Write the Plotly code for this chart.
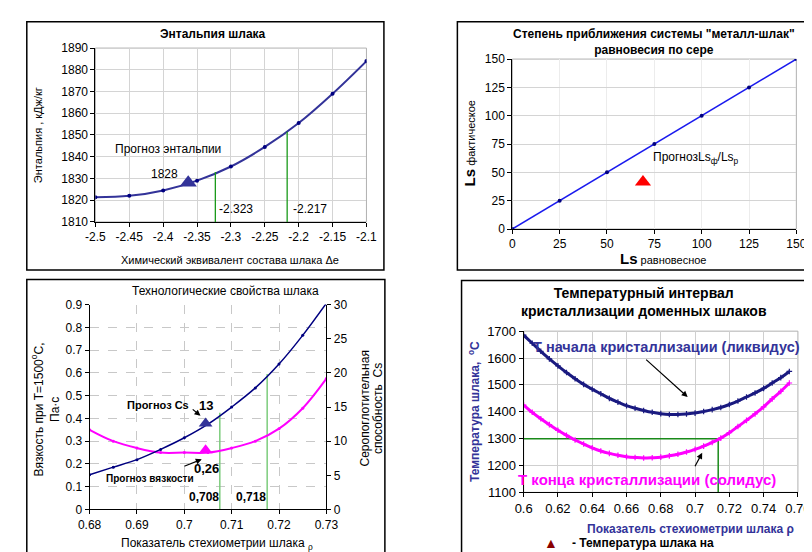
import plotly.graph_objects as go

W, H = 812, 552
def px(x): return x / W
def py(y): return 1 - y / H

F = "Liberation Sans, Arial, sans-serif"
FN = "Liberation Sans Narrow, Arial Narrow, Liberation Sans, sans-serif"

# ---------- Panel 1: enthalpy ----------
de = [-2.5, -2.45, -2.4, -2.35, -2.3, -2.25, -2.2, -2.15, -2.1]
enthalpy = [1821.3, 1822.0, 1824.5, 1829.0, 1835.5, 1844.5, 1855.5, 1869.0, 1884.0]
enth_forecast_x = [-2.363]
enth_forecast_y = [1828]
enth_green_x = [-2.323, -2.217]
enth_green_top = [1833.0, 1851.5]
p1_xticks = [-2.5, -2.45, -2.4, -2.35, -2.3, -2.25, -2.2, -2.15, -2.1]
p1_xtext = ["-2.5", "-2.45", "-2.4", "-2.35", "-2.3", "-2.25", "-2.2", "-2.15", "-2.1"]

# ---------- Panel 2: Ls ----------
ls_eq = [0, 25, 50, 75, 100, 125, 150]
ls_act = [0, 25, 50, 75, 100, 125, 150]
ls_forecast_x = [69]
ls_forecast_y = [41.5]

# ---------- Panel 3: viscosity & Cs ----------
rho3 = [0.68, 0.685, 0.69, 0.695, 0.70, 0.705, 0.71, 0.715, 0.72, 0.725, 0.73]
cs = [5.1, 6.2, 7.3, 8.8, 10.5, 12.5, 15.0, 17.8, 21.3, 25.5, 30.2]
viscosity = [0.35, 0.30, 0.27, 0.25, 0.25, 0.25, 0.27, 0.30, 0.355, 0.445, 0.575]
cs_forecast = ([0.7045], [12.6])
visc_forecast = ([0.7045], [0.26])
p3_green_x = [0.7075, 0.7175]
p3_green_top = [0.425, 0.595]

# ---------- Panel 4: crystallisation ----------
rho4 = [0.600, 0.605, 0.610, 0.615, 0.620, 0.625, 0.630, 0.635, 0.640, 0.645,
        0.650, 0.655, 0.660, 0.665, 0.670, 0.675, 0.680, 0.685, 0.690, 0.695,
        0.700, 0.705, 0.710, 0.715, 0.720, 0.725, 0.730, 0.735, 0.740, 0.745,
        0.750, 0.755]
liquidus = [1685, 1655, 1625, 1597, 1571, 1546, 1523, 1502, 1484, 1467,
            1450, 1436, 1423, 1413, 1405, 1398, 1393, 1390, 1390, 1392,
            1395, 1401, 1408, 1416, 1427, 1440, 1455, 1470, 1487, 1507,
            1527, 1550]
solidus = [1425, 1398, 1374, 1352, 1331, 1312, 1295, 1280, 1266, 1254,
           1245, 1238, 1233, 1230, 1228, 1229, 1231, 1236, 1242, 1250,
           1260, 1272, 1286, 1302, 1322, 1345, 1368, 1392, 1418, 1448,
           1476, 1507]
p4_green_h_x = [0.6, 0.7135]
p4_green_h_y = [1300, 1300]
p4_green_v_x = [0.7135, 0.7135]
p4_green_v_y = [1300, 1100]

fig = go.Figure()

# Panel 1 traces
fig.add_trace(go.Scatter(x=de, y=enthalpy, mode="lines+markers", xaxis="x", yaxis="y",
                         line=dict(color="#333399", width=2, shape="spline"),
                         marker=dict(size=4, color="#000080"), showlegend=False))
for gx, gt in zip(enth_green_x, enth_green_top):
    fig.add_trace(go.Scatter(x=[gx, gx], y=[1810, gt], mode="lines", xaxis="x", yaxis="y",
                             line=dict(color="#1a9a1a", width=1.3), showlegend=False))
fig.add_trace(go.Scatter(x=enth_forecast_x, y=enth_forecast_y, mode="markers", xaxis="x", yaxis="y",
                         marker=dict(symbol="triangle-up", size=15, color="#333399"), showlegend=False))

# Panel 2 traces
fig.add_trace(go.Scatter(x=ls_eq, y=ls_act, mode="lines+markers", xaxis="x2", yaxis="y2",
                         line=dict(color="#1a1aee", width=1.5),
                         marker=dict(size=4, color="#000080"), showlegend=False))
fig.add_trace(go.Scatter(x=ls_forecast_x, y=ls_forecast_y, mode="markers", xaxis="x2", yaxis="y2",
                         marker=dict(symbol="triangle-up", size=14, color="#ff0000"), showlegend=False))

# Panel 3 traces
for gx, gt in zip(p3_green_x, p3_green_top):
    fig.add_trace(go.Scatter(x=[gx, gx], y=[0, gt], mode="lines", xaxis="x3", yaxis="y3",
                             line=dict(color="#7ccc7c", width=1.5), showlegend=False))
fig.add_trace(go.Scatter(x=rho3, y=viscosity, mode="lines+markers", xaxis="x3", yaxis="y3",
                         line=dict(color="#ff00ff", width=2, shape="spline"),
                         marker=dict(size=3, color="#ff00ff"), showlegend=False))
fig.add_trace(go.Scatter(x=rho3, y=cs, mode="lines+markers", xaxis="x3", yaxis="y4",
                         line=dict(color="#000080", width=1.5, shape="spline"),
                         marker=dict(size=3, color="#000080"), showlegend=False))
fig.add_trace(go.Scatter(x=cs_forecast[0], y=cs_forecast[1], mode="markers", xaxis="x3", yaxis="y4",
                         marker=dict(symbol="triangle-up", size=12, color="#333399"), showlegend=False))
fig.add_trace(go.Scatter(x=visc_forecast[0], y=visc_forecast[1], mode="markers", xaxis="x3", yaxis="y3",
                         marker=dict(symbol="triangle-up", size=12, color="#ff00ff"), showlegend=False))

# Panel 4 traces
fig.add_trace(go.Scatter(x=p4_green_h_x, y=p4_green_h_y, mode="lines", xaxis="x5", yaxis="y5",
                         line=dict(color="#1a8a1a", width=1.5), showlegend=False))
fig.add_trace(go.Scatter(x=p4_green_v_x, y=p4_green_v_y, mode="lines", xaxis="x5", yaxis="y5",
                         line=dict(color="#1a8a1a", width=1.5), showlegend=False))
fig.add_trace(go.Scatter(x=rho4, y=liquidus, mode="lines+markers", xaxis="x5", yaxis="y5",
                         line=dict(color="#1a1a80", width=3, shape="spline"),
                         marker=dict(symbol="cross-thin", size=4, line=dict(color="#1a1a80", width=1.2)),
                         showlegend=False))
fig.add_trace(go.Scatter(x=rho4, y=solidus, mode="lines+markers", xaxis="x5", yaxis="y5",
                         line=dict(color="#ff00ff", width=3, shape="spline"),
                         marker=dict(symbol="cross-thin", size=4, line=dict(color="#ff00ff", width=1.2)),
                         showlegend=False))

grid = "#d4d4d4"
ax_common = dict(showline=True, linecolor="black", linewidth=1, ticks="outside",
                 ticklen=4, tickcolor="black", zeroline=False)

layout = dict(
    width=W, height=H, margin=dict(l=0, r=0, t=0, b=0),
    paper_bgcolor="white", plot_bgcolor="rgba(0,0,0,0)",
    font=dict(family=F, size=12, color="black"),
    showlegend=False,
    xaxis=dict(domain=[px(77.7), px(357)], anchor="y", range=[-2.5, -2.1],
               tickvals=p1_xticks, ticktext=p1_xtext, showgrid=True, gridcolor=grid,
               tickfont=dict(size=12), **ax_common),
    yaxis=dict(domain=[py(212.7), py(34)], anchor="x", range=[1810, 1890], dtick=10,
               showgrid=True, gridcolor=grid, tickfont=dict(size=12), **ax_common),
    xaxis2=dict(domain=[px(507.3), px(800)], anchor="y2", range=[0, 150], dtick=25,
                showgrid=True, gridcolor="#ececec", tickfont=dict(size=12), **ax_common),
    yaxis2=dict(domain=[py(220), py(45.3)], anchor="x2", range=[0, 150], dtick=25,
                showgrid=True, gridcolor=grid, tickfont=dict(size=12), **ax_common),
    xaxis3=dict(domain=[px(71.7), px(315.7)], anchor="y3", range=[0.68, 0.73], dtick=0.01,
                showgrid=True, gridcolor="#c8c8c8", griddash="dash",
                tickfont=dict(family=FN, size=12), **ax_common),
    yaxis3=dict(domain=[py(508.3), py(297.7)], anchor="x3", range=[0, 0.9], dtick=0.1,
                showgrid=True, gridcolor="#c8c8c8", griddash="dash",
                tickfont=dict(family=FN, size=12), **ax_common),
    yaxis4=dict(overlaying="y3", anchor="x3", side="right", range=[0, 30], dtick=5,
                showgrid=False, tickfont=dict(family=FN, size=12), **ax_common),
    xaxis5=dict(domain=[px(519), px(801.6)], anchor="y5", range=[0.6, 0.76], dtick=0.02,
                showgrid=True, gridcolor="#cfcfcf", tickfont=dict(size=13), **ax_common),
    yaxis5=dict(domain=[py(490.7), py(325)], anchor="x5", range=[1100, 1700], dtick=100,
                showgrid=True, gridcolor="#cfcfcf", tickfont=dict(size=13), **ax_common),
)
fig.update_layout(**layout)

shapes = []
for (x0, y0, x1, y1) in [(7, 7, 375, 262), (450.7, 7, 830, 262), (7, 272, 376, 570), (455, 273, 830, 570)]:
    shapes.append(dict(type="rect", xref="paper", yref="paper", x0=px(x0), x1=px(x1), y0=py(y1), y1=py(y0),
                       line=dict(color="black", width=1.5), fillcolor="rgba(0,0,0,0)", layer="above"))
for (x0, y0, x1, y1) in [(77.7, 34, 357, 212.7), (519, 325, 801.6, 490.7), (507.3, 45.3, 800, 220)]:
    shapes.append(dict(type="rect", xref="paper", yref="paper", x0=px(x0), x1=px(x1), y0=py(y1), y1=py(y0),
                       line=dict(color="#b0b0b0", width=1), fillcolor="rgba(0,0,0,0)", layer="below"))
fig.update_layout(shapes=shapes)

ann = []
def T(x, y, text, size=12, bold=False, family=F, color="black", xanchor="center", angle=0, yanchor="middle"):
    ann.append(dict(x=px(x), y=py(y), xref="paper", yref="paper", text=(f"<b>{text}</b>" if bold else text),
                    showarrow=False, font=dict(size=size, family=family, color=color),
                    xanchor=xanchor, yanchor=yanchor, textangle=angle))
def A(tx, ty, hx, hy, color="black", width=1.2, size=1):
    ann.append(dict(x=px(hx), y=py(hy), xref="paper", yref="paper", text="", showarrow=True,
                    ax=tx - hx, ay=ty - hy, arrowhead=2, arrowsize=size, arrowwidth=width, arrowcolor=color))

# Panel 1 texts
T(199, 20, "Энтальпия шлака", 12, True)
T(18, 123, "Энтальпия , кДж/кг", 11, angle=-90)
T(216.7, 251.7, "Химический эквивалент состава шлака Δе", 11)
T(152.5, 138, "Прогноз энтальпии", 12)
T(149, 163, "1828", 12)
ann.append(dict(x=enth_green_x[0], y=1816, xref="x", yref="y", text="-2.323", showarrow=False,
                xanchor="left", xshift=2, font=dict(size=12, family=F)))
ann.append(dict(x=enth_green_x[1], y=1816, xref="x", yref="y", text="-2.217", showarrow=False,
                xanchor="left", xshift=4, font=dict(size=12, family=F)))

# Panel 2 texts
T(653, 28, "Степень приближения системы \"металл-шлак\"<br>равновесия по сере", 12, True)
T(463, 131.7, "<b><span style='font-size:15px'>Ls</span></b> фактическое", 11, angle=-90)
T(663, 250, "<b><span style='font-size:15px'>Ls</span></b> равновесное", 11)
T(650.7, 146.7, "ПрогнозLs<sub>ф</sub>/Ls<sub>р</sub>", 12, xanchor="left")

# Panel 3 texts
T(212, 284, "Технологические свойства шлака", 12, family=FN)
T(18, 405, "Вязкость при T=1500<sup>o</sup>C,", 12, family=FN, angle=-90)
T(36, 405, "Па·с", 12, family=FN, angle=-90)
T(355, 405, "Серопоглотительная", 12, family=FN, angle=-90)
T(369, 405, "способность  Cs", 12, family=FN, angle=-90)
T(202.5, 544, "Показатель стехиометрии шлака <sub>ρ</sub>", 12, family=FN)
T(141.7, 400.7, "Прогноз Cs", 11, True, FN)
T(191.7, 401.7, "13", 13, True, FN)
T(192, 466, "0,26", 13, True, FN)
T(134, 476, "Прогноз вязкости", 10, True, FN)
T(190, 495, "0,708", 12, True, FN)
T(238.3, 495, "0,718", 12, True, FN)
A(176.7, 404.3, 186, 412)
A(168.3, 464.3, 187.3, 456.7)

# Panel 4 texts
BLUE = "#333399"
T(643, 295.5, "Температурный интервал<br>кристаллизации доменных шлаков", 14, True)
T(468, 408, "Температура шлака,  <sup>o</sup>C", 12, True, color=BLUE, angle=-90)
T(581.7, 528, "Показатель стехиометрии шлака ρ", 12, True, color=BLUE, xanchor="left")
T(546.7, 543, "▲", 14, color="#8b0000")
T(566.7, 543, "- Температура шлака на", 12, True, xanchor="left")
T(527, 341.7, "Т начала кристаллизации (ликвидус)", 14.5, True, color=BLUE, xanchor="left")
T(511, 477, "Т конца кристаллизации (солидус)", 15, True, color="#ff00ff", xanchor="left")
A(645, 354, 688, 392.7)
A(695, 465, 703, 450)

fig.update_layout(annotations=ann)
fig.write_html("out.html")
